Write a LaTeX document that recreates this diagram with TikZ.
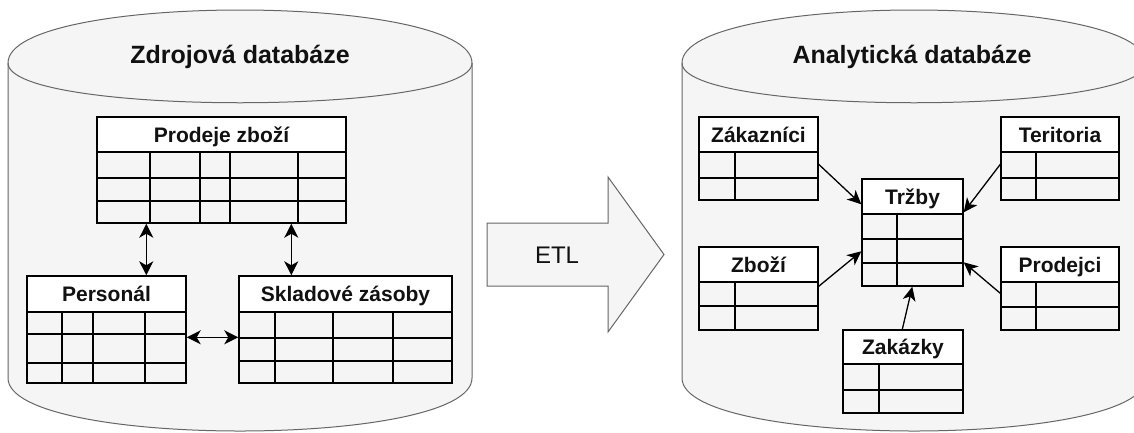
\documentclass[tikz,border=0pt]{standalone}
\usepackage{fontspec}
\setmainfont{Liberation Sans}
\usetikzlibrary{arrows.meta,calc,fit}
\definecolor{cylfill}{HTML}{F5F5F5}
\definecolor{cylline}{HTML}{666666}
\definecolor{txt}{HTML}{111111}
\newcommand{\dbtab}[9]{%
  \fill[white] (#2,#3) rectangle (#4,#6);
  \foreach \r in {#7} {\draw[tline] (#2,\r) -- (#4,\r);}
  \foreach \c in {#8} {\draw[tline] (\c,#6) -- (\c,#5);}
  \draw[tline] (#2,#6) -- (#4,#6);
  \node[fit={(#2,#3) (#4,#5)}, inner sep=0pt, draw, tline] (#1) {};
  \node[hdr] (#1-t) at ({(#2+#4)/2},{(#3+#6)/2+7.5}) {#9};
}
\begin{document}
\begin{tikzpicture}[x=1pt,y=-1pt,
  cyl/.style={fill=cylfill,draw=cylline,line width=1pt},
  tline/.style={draw=black,line width=1.4pt},
  hdr/.style={font=\bfseries\fontsize{21}{21}\selectfont,text=txt,anchor=base,inner sep=0pt},
  ttl/.style={font=\bfseries\fontsize{25}{25}\selectfont,text=txt,anchor=base,inner sep=0pt},
  rel/.style={line width=1.4pt,{Stealth[length=14pt,width=14pt,inset=4pt]}-{Stealth[length=14pt,width=14pt,inset=4pt]}},
  fk/.style={line width=1.3pt,-{Stealth[length=14pt,width=13pt,inset=4pt]}}]
\useasboundingbox (0,0) rectangle (1134,432);
\fill[white] (0,0) rectangle (1134,432);
\clip (0,0) rectangle (1134,432);
% left cylinder
\draw[cyl] (8,63) .. controls (8,-7.67) and (472,-7.67) .. (472,63) -- (472,378) .. controls (472,448.67) and (8,448.67) .. (8,378) -- cycle;
\draw[draw=cylline,line width=1pt] (8,63) .. controls (8,116) and (472,116) .. (472,63);
\node[ttl] (srcdb) at (240,63) {Zdrojová databáze};
% right cylinder
\draw[cyl] (682,63) .. controls (682,-7.67) and (1146,-7.67) .. (1146,63) -- (1146,378) .. controls (1146,448.67) and (682,448.67) .. (682,378) -- cycle;
\draw[draw=cylline,line width=1pt] (682,63) .. controls (682,116) and (1146,116) .. (1146,63);
\node[ttl] (anadb) at (912,63) {Analytická databáze};
% ETL arrow
\draw[cyl] (487,223) -- (608,223) -- (608,177) -- (664,254.5) -- (608,332) -- (608,286) -- (487,286) -- cycle;
\node[font=\fontsize{24}{24}\selectfont,text=txt,anchor=base,inner sep=0pt] (etl) at (557,263) {ETL};
% source tables
\dbtab{pz}{97}{117}{346}{223}{152}{178,201}{150,200,230,298}{Prodeje zboží}
\dbtab{pers}{27}{276}{186}{383}{312}{334,363}{62,93,145}{Personál}
\dbtab{skl}{239}{276}{452}{383}{312}{338,361}{275,333,393}{Skladové zásoby}
\draw[rel] ($(pz.south west)+(50,0)$) -- ($(pers.north west)+(120,0)$);
\draw[rel] ($(pz.south west)+(195,0)$) -- ($(skl.north west)+(53,0)$);
\draw[rel] ($(pers.north east)+(0,62)$) -- ($(skl.north west)+(0,62)$);
% analytic tables
\dbtab{zak}{699}{117}{818}{200}{152}{178}{735}{Zákazníci}
\dbtab{ter}{1001}{117}{1119}{200}{152}{178}{1036}{Teritoria}
\dbtab{trz}{862}{179}{963}{286}{214}{239,263}{897}{Tržby}
\dbtab{zbo}{699}{247}{818}{330}{282}{306}{735}{Zboží}
\dbtab{pro}{1001}{247}{1119}{330}{282}{307}{1036}{Prodejci}
\dbtab{zkz}{843}{330}{963}{413}{364}{390}{879}{Zakázky}
\draw[fk] ($(zak.north east)+(0,48)$) -- ($(trz.north west)+(0,26)$);
\draw[fk] ($(ter.north west)+(0,48)$) -- ($(trz.north east)+(0,34)$);
\draw[fk] ($(zbo.north east)+(0,40)$) -- ($(trz.north west)+(0,73)$);
\draw[fk] ($(pro.north west)+(0,47)$) -- ($(trz.north east)+(0,84)$);
\draw[fk] ($(zkz.north west)+(60,0)$) -- ($(trz.south west)+(51,0)$);
\end{tikzpicture}
\end{document}
